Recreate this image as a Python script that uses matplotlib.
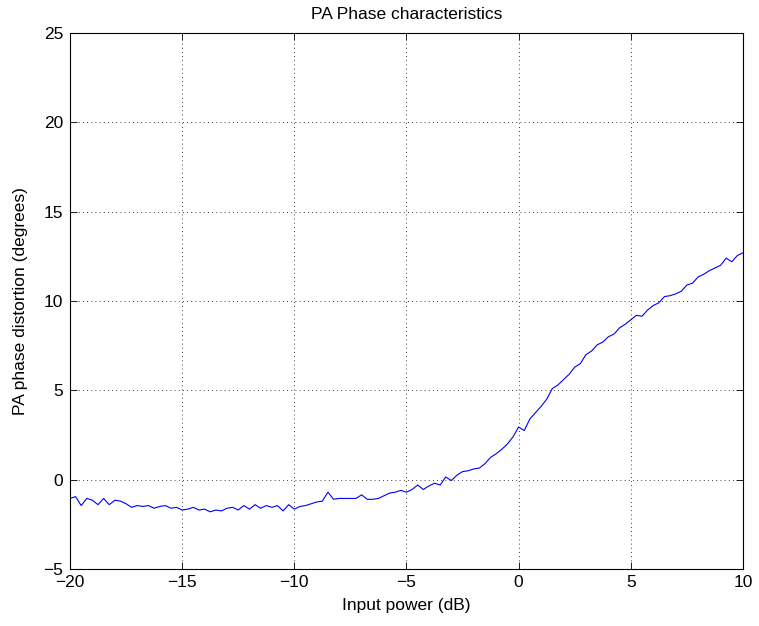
import numpy as np
import matplotlib
matplotlib.use("Agg")
import matplotlib.pyplot as plt

# input power grid (dB), 0.25 dB steps
input_power = np.arange(-20, 10.001, 0.25)

# phase distortion (degrees)
phase_deg = [
    -1.05, -0.95, -1.45, -1.05, -1.15, -1.40, -1.05, -1.40, -1.15, -1.20,
    -1.35, -1.55, -1.45, -1.50, -1.45, -1.60, -1.50, -1.45, -1.60, -1.55,
    -1.70, -1.65, -1.55, -1.70, -1.65, -1.80, -1.70, -1.75, -1.60, -1.55,
    -1.70, -1.45, -1.65, -1.40, -1.60, -1.45, -1.55, -1.45, -1.75, -1.40,
    -1.65, -1.50, -1.45, -1.35, -1.25, -1.20, -0.70, -1.10, -1.05, -1.05,
    -1.05, -1.05, -0.85, -1.10, -1.10, -1.05, -0.90, -0.75, -0.70, -0.60,
    -0.70, -0.55, -0.30, -0.55, -0.35, -0.20, -0.30, 0.15, -0.05, 0.25,
    0.45, 0.50, 0.60, 0.65, 0.90, 1.25, 1.45, 1.70, 2.00, 2.40,
    2.95, 2.75, 3.40, 3.75, 4.10, 4.50, 5.10, 5.30, 5.60, 5.90,
    6.30, 6.50, 7.00, 7.20, 7.55, 7.70, 8.00, 8.15, 8.50, 8.70,
    8.95, 9.20, 9.15, 9.50, 9.75, 9.90, 10.25, 10.30, 10.40, 10.55,
    10.90, 11.00, 11.35, 11.50, 11.70, 11.85, 12.00, 12.40, 12.20, 12.55,
    12.70,
]

xticks = [-20, -15, -10, -5, 0, 5, 10]
yticks = [-5, 0, 5, 10, 15, 20, 25]

plt.rcParams['font.family'] = ['Liberation Sans', 'DejaVu Sans']
plt.rcParams['font.size'] = 12.5

fig = plt.figure(figsize=(7.59, 6.26), dpi=100)
ax = fig.add_axes([0.0922, 0.0911, 0.8867, 0.856])

ax.plot(input_power, phase_deg, color=(0, 0, 1), linewidth=0.8)

ax.set_xlim(-20, 10)
ax.set_ylim(-5, 25)
ax.set_xticks(xticks)
ax.set_yticks(yticks)
ax.grid(True, linestyle=(0, (1, 4)), color='black', linewidth=0.6)
ax.tick_params(direction='in', top=True, right=True, length=5, width=0.6)
ax.tick_params(axis='y', pad=5)
ax.tick_params(axis='x', pad=4)
for sp in ax.spines.values():
    sp.set_linewidth(0.8)

ax.set_xlabel("Input power (dB)", labelpad=6)
ax.set_ylabel("PA phase distortion (degrees)", labelpad=11)
ax.set_title("PA Phase characteristics", fontsize=12.5, pad=10)

fig.savefig("out.png", dpi=100)
